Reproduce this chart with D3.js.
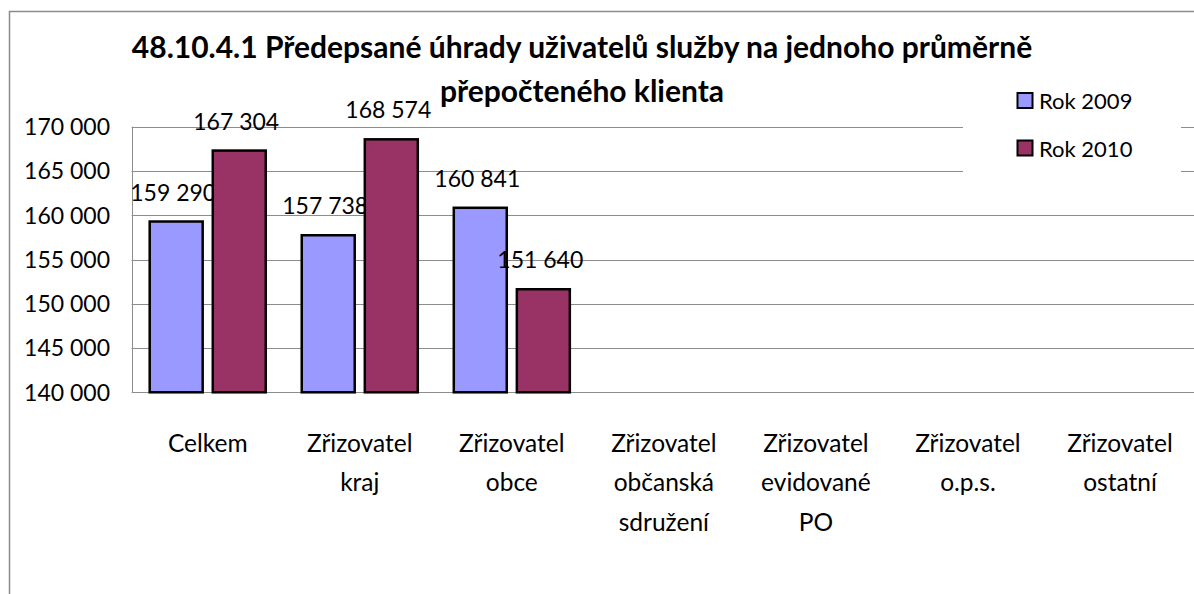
<!DOCTYPE html>
<html>
<head>
<meta charset="utf-8">
<script src="https://cdn.jsdelivr.net/npm/d3@7"></script>
<style>
  html, body { margin: 0; padding: 0; background: #fff; }
  svg { display: block; font-family: Lato, "Open Sans", sans-serif; }
</style>
</head>
<body>
<div id="chart"></div>
<script>
// chart data
const categories = [
  ["Celkem"],
  ["Zřizovatel", "kraj"],
  ["Zřizovatel", "obce"],
  ["Zřizovatel", "občanská", "sdružení"],
  ["Zřizovatel", "evidované", "PO"],
  ["Zřizovatel", "o.p.s."],
  ["Zřizovatel", "ostatní"]
];
const seriesNames = ["Rok 2009", "Rok 2010"];
const values2009 = [159290, 157738, 160841, null, null, null, null];
const values2010 = [167304, 168574, 151640, null, null, null, null];
const yTicks = [140000, 145000, 150000, 155000, 160000, 165000, 170000];
const titleLines = ["48.10.4.1 Předepsané úhrady uživatelů služby na jednoho průměrně", "přepočteného klienta"];
const colors = ["#9999FF", "#993366"];

const W = 1194, H = 594;
const plot = { left: 131.7, top: 126.7, right: 1196, bottom: 392.3 };

const fmt = v => d3.format(",")(v).replace(/,/g, " ");

const svg = d3.select("#chart").append("svg")
  .attr("width", W).attr("height", H);

// chart outer border
svg.append("path")
  .attr("d", `M9.5,${H} V11.5 H${W}`)
  .attr("fill", "none").attr("stroke", "#8c8c8c").attr("stroke-width", 1.5);

const x = d3.scaleBand()
  .domain(d3.range(categories.length))
  .range([plot.left, plot.right])
  .paddingInner(0).paddingOuter(0);

const y = d3.scaleLinear().domain([140000, 170000]).range([plot.bottom, plot.top]);

const inner = d3.scaleBand().domain([0, 1])
  .range([18, x.bandwidth() - 18]).paddingInner(0.16);

// gridlines
svg.append("g")
  .selectAll("line").data(yTicks).join("line")
  .attr("x1", plot.left).attr("x2", plot.right)
  .attr("y1", d => Math.round(y(d)) + 0.5).attr("y2", d => Math.round(y(d)) + 0.5)
  .attr("stroke", "#8c8c8c").attr("stroke-width", 1);

// left axis line
svg.append("line")
  .attr("x1", Math.round(plot.left) + 0.5).attr("x2", Math.round(plot.left) + 0.5)
  .attr("y1", plot.top).attr("y2", plot.bottom)
  .attr("stroke", "#8c8c8c");

// y tick labels
svg.append("g")
  .selectAll("text").data(yTicks).join("text")
  .attr("x", 110).attr("y", d => y(d))
  .attr("dy", "0.36em")
  .attr("text-anchor", "end")
  .attr("font-size", 23)
  .attr("fill", "#000")
  .text(fmt);

// bars
const series = [values2009, values2010];
series.forEach((vals, si) => {
  const data = vals.map((v, i) => ({ i, v })).filter(d => d.v != null);
  svg.append("g")
    .selectAll("rect").data(data).join("rect")
    .attr("x", d => x(d.i) + inner(si))
    .attr("y", d => y(d.v))
    .attr("width", inner.bandwidth())
    .attr("height", d => y(140000) - y(d.v))
    .attr("fill", colors[si])
    .attr("stroke", "#000").attr("stroke-width", 2.5);

  svg.append("g")
    .selectAll("text").data(data).join("text")
    .attr("x", d => x(d.i) + inner(si) + inner.bandwidth() / 2 - 3)
    .attr("y", d => y(d.v) - 21)
    .attr("text-anchor", "middle")
    .attr("font-size", 23)
    .text(d => fmt(d.v));
});

// category labels
const cat = svg.append("g").selectAll("text").data(categories).join("text")
  .attr("text-anchor", "middle")
  .attr("font-size", 24.5);
cat.each(function (lines, i) {
  d3.select(this).selectAll("tspan").data(lines).join("tspan")
    .attr("x", x(i) + x.bandwidth() / 2)
    .attr("y", (d, k) => 452 + k * 39.4)
    .text(d => d);
});

// legend
const legend = svg.append("g");
legend.append("rect")
  .attr("x", 963).attr("y", 80).attr("width", 218).attr("height", 104)
  .attr("fill", "#fff");
seriesNames.forEach((name, si) => {
  const ly = 93 + si * 47.5;
  legend.append("rect")
    .attr("x", 1017.5).attr("y", ly).attr("width", 15).attr("height", 15)
    .attr("fill", colors[si]).attr("stroke", "#000").attr("stroke-width", 2);
  legend.append("text")
    .attr("x", 1039).attr("y", ly + 16)
    .attr("font-size", 22)
    .text(name);
});

// title
svg.append("g").selectAll("text").data(titleLines).join("text")
  .attr("x", 582).attr("y", (d, k) => 58 + k * 43.5)
  .attr("text-anchor", "middle")
  .attr("font-size", 30).attr("font-weight", "bold")
  .text(d => d);
</script>
</body>
</html>
